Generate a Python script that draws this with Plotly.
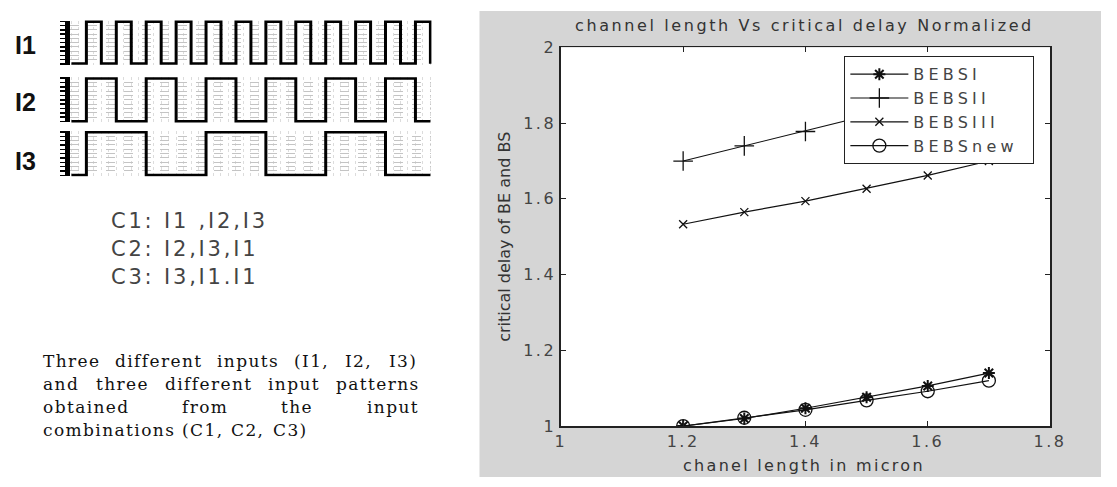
import plotly.graph_objects as go

W, H = 1117, 487
def fx(p): return p / W
def fy(p): return 1 - p / H

# ---------------- data: right chart ----------------
channel_length = [1.2, 1.3, 1.4, 1.5, 1.6, 1.7]
bebs_i   = [1.000, 1.020, 1.047, 1.076, 1.106, 1.140]
bebs_ii  = [1.700, 1.740, 1.778, 1.820, 1.860, 1.900]
bebs_iii = [1.533, 1.565, 1.594, 1.627, 1.662, 1.700]
bebs_new = [1.000, 1.022, 1.043, 1.068, 1.092, 1.120]
series_names = ["BEBSI", "BEBSII", "BEBSIII", "BEBSnew"]
x_ticks = [1, 1.2, 1.4, 1.6, 1.8]
y_ticks = [1, 1.2, 1.4, 1.6, 1.8, 2]

# ---------------- data: input waveforms (value per clock slot) ----------------
slots   = [-1, 0, 1, 2, 3, 4, 5, 6, 7, 8, 9, 10, 11, 12, 13, 14, 15, 16, 17, 18, 19, 20, 21, 22, 23]
wave_i1 = [0, 1, 0, 1, 0, 1, 0, 1, 0, 1, 0, 1, 0, 1, 0, 1, 0, 1, 0, 1, 0, 1, 0, 1, 0]
wave_i2 = [0, 1, 1, 0, 0, 1, 1, 0, 0, 1, 1, 0, 0, 1, 1, 0, 0, 1, 1, 0, 0, 1, 1, 0, 0]
wave_i3 = [0, 1, 1, 1, 1, 0, 0, 0, 0, 1, 1, 1, 1, 0, 0, 0, 0, 1, 1, 1, 1, 0, 0, 0, 0]
wave_labels = ["I1", "I2", "I3"]

combo_lines = ["C1: I1 ,I2,I3", "C2: I2,I3,I1", "C3: I3,I1.I1"]
para_lines = [
    ["Three", "different", "inputs", "(I1,", "I2,", "I3)"],
    ["and", "three", "different", "input", "patterns"],
    ["obtained", "from", "the", "input"],
    ["combinations", "(C1,", "C2,", "C3)"],
]

title_text = "channel length Vs critical delay Normalized"
x_title = "chanel length in micron"
y_title = "critical delay of BE and BS"

def ls(text, sp):
    return f"<span style='letter-spacing:{sp}px'>{text}</span>"

fig = go.Figure()

# ---------------- main chart traces ----------------
styles = [
    dict(symbol="asterisk-open", size=10, line=dict(width=2, color="#111")),
    dict(symbol="cross-thin-open", size=14, line=dict(width=1.3, color="#111")),
    dict(symbol="x-thin-open", size=8, line=dict(width=1.3, color="#111")),
    dict(symbol="circle-open", size=13, line=dict(width=1.3, color="#111")),
]
for name, ys, mk in zip(series_names, [bebs_i, bebs_ii, bebs_iii, bebs_new], styles):
    fig.add_trace(go.Scatter(
        x=channel_length, y=ys, mode="lines+markers", name=ls(name + "&#160;", 4.2),
        line=dict(color="#111", width=1.2), marker=dict(color="#111", **mk),
        xaxis="x", yaxis="y"))

# ---------------- waveform traces ----------------
wave_px = [(12, 58), (71, 118), (127, 174)]  # top,bottom pixel of each panel
for i, w in enumerate([wave_i1, wave_i2, wave_i3]):
    k = i + 2
    fig.add_trace(go.Scatter(
        x=slots, y=w, mode="lines", line=dict(color="black", width=3, shape="hv"),
        showlegend=False, xaxis=f"x{k}", yaxis=f"y{k}", hoverinfo="skip"))

layout = dict(
    width=W, height=H, margin=dict(l=0, r=0, t=0, b=0), autosize=False,
    paper_bgcolor="white", plot_bgcolor="white",
    showlegend=True, dragmode=False,
    xaxis=dict(domain=[fx(566), fx(1065)], range=[1, 1.8], tickvals=x_ticks,
               ticktext=[ls(f"{v:g}", 2.5) for v in x_ticks],
               showline=True, mirror="ticks", linecolor="#222", linewidth=1.5,
               ticks="inside", ticklen=5, tickcolor="#222", showgrid=False, zeroline=False,
               tickfont=dict(family="DejaVu Sans", size=16, color="#444"), fixedrange=True),
    yaxis=dict(domain=[fy(434), fy(40)], range=[1, 2], tickvals=y_ticks,
               ticktext=[ls(f"{v:g}", 2.5) for v in y_ticks],
               showline=True, mirror="ticks", linecolor="#222", linewidth=1.5,
               ticks="inside", ticklen=5, tickcolor="#222", showgrid=False, zeroline=False,
               tickfont=dict(family="DejaVu Sans", size=16, color="#444"), fixedrange=True,
               title=dict(text=y_title, font=dict(family="DejaVu Sans", size=16, color="#333"),
                          standoff=8)),
    legend=dict(x=fx(855), y=fy(49), xanchor="left", yanchor="top",
                bgcolor="white", bordercolor="#222", borderwidth=1.2,
                font=dict(family="DejaVu Sans", size=16, color="#444"),
                itemwidth=58),
)

for i, (top, bot) in enumerate(wave_px):
    k = i + 2
    span = (bot - 1) - (top + 1)
    pad = 1.0 / span
    layout[f"xaxis{k}"] = dict(domain=[fx(65), fx(434)], range=[-1.114, 23.07], fixedrange=True,
                               showline=False, showgrid=True, gridcolor="#dcdcdc", griddash="dot",
                               dtick=0.5, tick0=0, showticklabels=False, ticks="", zeroline=False,
                               anchor=f"y{k}")
    layout[f"yaxis{k}"] = dict(domain=[fy(bot), fy(top)], range=[-pad, 1 + pad], fixedrange=True,
                               showline=True, linecolor="black", linewidth=5,
                               ticks="outside", ticklen=5, tickwidth=1.5, tickcolor="black",
                               dtick=0.1, tick0=0, showticklabels=False,
                               showgrid=True, gridcolor="#c4c4c4", griddash="dash",
                               zeroline=False, anchor=f"x{k}")

fig.update_layout(**layout)

# ---------------- background panels ----------------
fig.add_shape(type="rect", xref="paper", yref="paper", x0=fx(483), x1=1, y0=0, y1=fy(2),
              fillcolor="#d5d5d5", line=dict(width=0), layer="below")
fig.add_shape(type="rect", xref="x domain", yref="y domain", x0=0, x1=1, y0=0, y1=1,
              fillcolor="white", line=dict(width=0), layer="below")

ann = []
# title
ann.append(dict(text=ls(title_text, 2.6), x=fx(815), y=fy(17), xref="paper", yref="paper",
                showarrow=False, xanchor="center", yanchor="middle",
                font=dict(family="DejaVu Sans", size=16, color="#333")))
# x-axis title
ann.append(dict(text=ls(x_title, 2.3), x=fx(814), y=fy(475), xref="paper", yref="paper",
                showarrow=False, xanchor="center", yanchor="middle",
                font=dict(family="DejaVu Sans", size=16, color="#333")))
# waveform labels
for lab, cy in zip(wave_labels, [37, 97, 158]):
    ann.append(dict(text=f"<b>{lab}</b>", x=fx(20), y=fy(cy), xref="paper", yref="paper",
                    showarrow=False, xanchor="center", yanchor="middle",
                    font=dict(family="Liberation Sans", size=25, color="#111")))
# combination lines
for txt, cy in zip(combo_lines, [221, 250, 279]):
    ann.append(dict(text=ls(txt, 2.8), x=fx(105), y=fy(cy), xref="paper", yref="paper",
                    showarrow=False, xanchor="left", yanchor="middle",
                    font=dict(family="DejaVu Sans", size=21, color="#444")))

# paragraph (justified lines)
serif_w = {'a': .596, 'b': .640, 'c': .560, 'd': .640, 'e': .592, 'f': .370, 'g': .640, 'h': .644,
           'i': .320, 'l': .320, 'm': .948, 'n': .644, 'o': .602, 'p': .640, 'r': .478, 's': .513,
           't': .402, 'u': .644, 'w': .856, 'y': .565, 'T': .668, 'I': .472, 'C': .733, '(': .390,
           ')': .390, ',': .318, '1': .636, '2': .636, '3': .636}
FS, SP = 17, 1.4
def word_w(wd):
    return sum(serif_w.get(c, .6) for c in wd) * FS + SP * len(wd)
left, right = 36, 418
line_y = [366, 390, 414, 438]
for li, (words, cy) in enumerate(zip(para_lines, line_y)):
    widths = [word_w(wd) for wd in words]
    if li < 3:
        gap = (right - left - sum(widths)) / (len(words) - 1)
    else:
        gap = 0.318 * FS + 4
    x = left
    for wd, wdt in zip(words, widths):
        ann.append(dict(text=ls(wd, SP), x=fx(x), y=fy(cy), xref="paper", yref="paper",
                        showarrow=False, xanchor="left", yanchor="middle",
                        font=dict(family="DejaVu Serif", size=FS, color="#111")))
        x += wdt + gap

fig.update_layout(annotations=ann)

post = "document.body.style.margin='0';"
fig.write_html("out.html", config={"staticPlot": True, "displayModeBar": False}, post_script=post)
